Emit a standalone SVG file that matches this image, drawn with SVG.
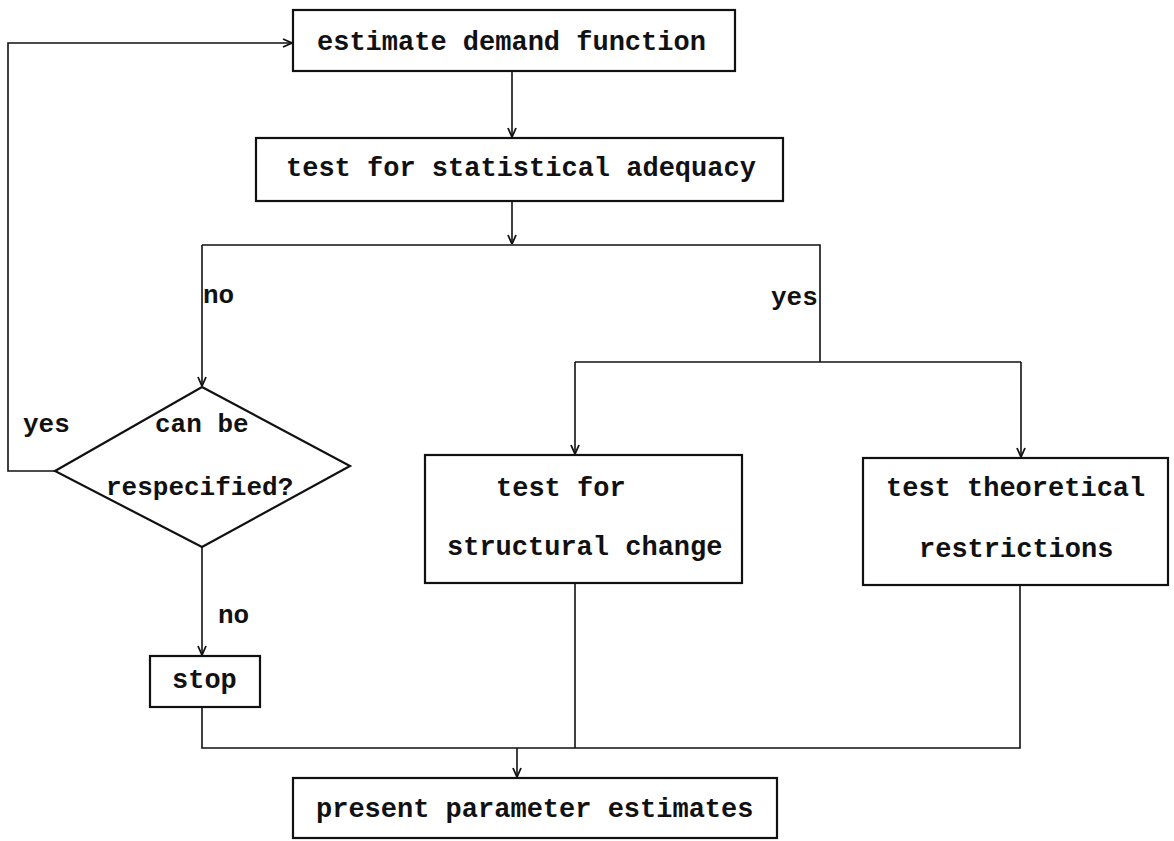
<svg xmlns="http://www.w3.org/2000/svg" width="1174" height="841" viewBox="0 0 1174 841">
<defs>
<marker id="arr" viewBox="0 0 10 10" refX="10" refY="5" markerWidth="10" markerHeight="10" markerUnits="userSpaceOnUse" orient="auto">
<path d="M1,1 L10,5 L1,9" fill="none" stroke="#111" stroke-width="1.8"/>
</marker>
<style>
.box{fill:#fff;stroke:#111;stroke-width:2.2}
.t{font-family:"Liberation Mono","Courier New",monospace;font-size:27px;font-weight:bold;fill:#111}
.lb{font-family:"Liberation Mono","Courier New",monospace;font-size:26px;font-weight:bold;fill:#111}
.c{fill:none;stroke:#111;stroke-width:1.6}
</style>
</defs>
<rect width="1174" height="841" fill="#fff"/>
<g id="connectors">
<path class="c" d="M55,471 H8 V43 H292" marker-end="url(#arr)"/>
<path class="c" d="M512,71 V137" marker-end="url(#arr)"/>
<path class="c" d="M512,201 V244" marker-end="url(#arr)"/>
<path class="c" d="M202,245 H820 V362"/>
<path class="c" d="M202,245 V386" marker-end="url(#arr)"/>
<path class="c" d="M575,362 H1021"/>
<path class="c" d="M575,362 V454" marker-end="url(#arr)"/>
<path class="c" d="M1021,362 V457" marker-end="url(#arr)"/>
<path class="c" d="M202,547 V655" marker-end="url(#arr)"/>
<path class="c" d="M202,707 V748 H1020 V585"/>
<path class="c" d="M575,583 V748"/>
<path class="c" d="M517,748 V777" marker-end="url(#arr)"/>
<text class="lb" x="203" y="303">no</text>
<text class="lb" x="771" y="305">yes</text>
<text class="lb" x="23" y="432">yes</text>
<text class="lb" x="218" y="623">no</text>
</g>
<g id="n_estimate">
<rect class="box" x="293" y="10" width="442" height="61"/>
<text class="t" x="317" y="50">estimate demand function</text>
</g>
<g id="n_test_adequacy">
<rect class="box" x="256" y="138" width="527" height="63"/>
<text class="t" x="286" y="176">test for statistical adequacy</text>
</g>
<g id="n_respecify">
<polygon class="box" points="202,387 350,466 202,547 55,471"/>
<text class="lb" x="155" y="432">can be</text>
<text class="lb" x="106" y="495">respecified?</text>
</g>
<g id="n_structural">
<rect class="box" x="425" y="455" width="317" height="128"/>
<text class="t" x="496" y="496">test for</text>
<text class="t" x="447" y="555">structural change</text>
</g>
<g id="n_theoretical">
<rect class="box" x="863" y="458" width="305" height="127"/>
<text class="t" x="886" y="496">test theoretical</text>
<text class="t" x="919" y="557">restrictions</text>
</g>
<g id="n_stop">
<rect class="box" x="150" y="656" width="110" height="51"/>
<text class="t" x="172" y="688">stop</text>
</g>
<g id="n_present">
<rect class="box" x="293" y="778" width="484" height="60"/>
<text class="t" x="316" y="817">present parameter estimates</text>
</g>
</svg>
